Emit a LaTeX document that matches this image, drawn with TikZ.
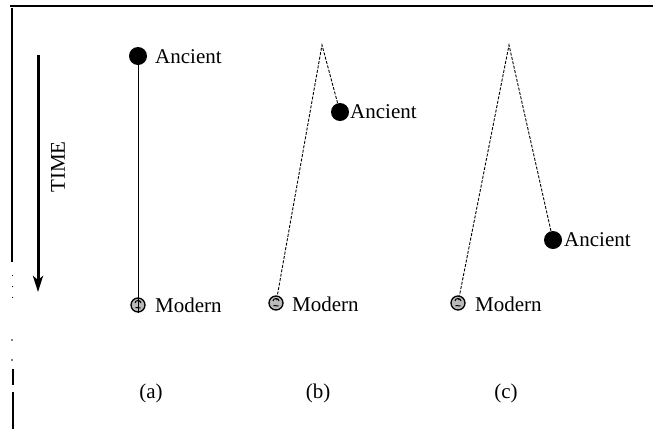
\documentclass[tikz,border=0pt]{standalone}
\usepackage{fontspec}
\setmainfont{Liberation Serif}
\usetikzlibrary{arrows.meta}
\begin{document}
\begin{tikzpicture}[x=1pt,y=-1pt,
  ancient/.style={circle,fill=black,minimum width=16pt,minimum height=18pt,inner sep=0pt},
  modern/.style={circle,draw=black,line width=1.3pt,fill=gray!55,minimum size=14pt,inner sep=0pt},
  lab/.style={font=\fontsize{21}{25}\selectfont,anchor=west,inner sep=0pt},
  caption/.style={font=\fontsize{21}{25}\selectfont,inner sep=0pt},
  branch/.style={line width=0.9pt,dash pattern=on 3pt off 1.5pt}]
\useasboundingbox (0,0) rectangle (653,429);
% frame
\coordinate (ftl) at (10,6);
\coordinate (ftr) at (653,6);
\draw[line width=1.6pt] (ftl) -- (ftr);
\draw[line width=1.3pt] (12,8) -- (12,262);
\draw[line width=1pt,dash pattern=on 1pt off 10pt] (12,275) -- (12,300);
\fill (12,340) circle (0.8);
\fill (12,360) circle (0.8);
\draw[line width=1.3pt] (13,369) -- (13,385);
\draw[line width=1.3pt] (13,392) -- (13,429);
% time arrow
\coordinate (tA) at (38,55);
\coordinate (tB) at (38,292);
\draw[line width=3pt,-{Stealth[length=16pt,width=10pt,inset=4pt]}] (tA) -- (tB);
\node[caption,rotate=90] (time) at (58,167) {TIME};
% panel (a)
\node[ancient] (aA) at (138,56) {};
\node[modern] (aM) at (138,305) {};
\draw[line width=1pt] (aA) -- (138,313);
\node[lab] (aAl) at (155,57) {Ancient};
\node[lab] (aMl) at (155,305) {Modern};
\node[caption] (ca) at (151,393) {(a)};
% panel (b)
\coordinate (bT) at (322,45);
\node[ancient] (bA) at (340,112) {};
\node[modern] (bM) at (276,303) {};
\draw[branch] (bA) -- (bT) -- (bM);
\node[lab] (bAl) at (350,112) {Ancient};
\node[lab] (bMl) at (292,304) {Modern};
\node[caption] (cb) at (318,393) {(b)};
% panel (c)
\coordinate (cT) at (509,45);
\node[ancient] (cA) at (553,240) {};
\node[modern] (cM) at (458,303) {};
\draw[branch] (cA) -- (cT) -- (cM);
\node[lab] (cAl) at (564,240) {Ancient};
\node[lab] (cMl) at (475,304) {Modern};
\node[caption] (cc) at (506,393) {(c)};
% modern symbol texture
\foreach \m in {aM,bM,cM}{
  \draw[line width=1pt] ([shift={(-3,-2)}]\m.center) arc (180:360:3 and 2.5);
  \draw[line width=1pt] ([shift={(-2.5,2.5)}]\m.center) -- ([shift={(2.5,3)}]\m.center);
  \fill ([shift={(1,-3.5)}]\m.center) circle (0.9);
}
\end{tikzpicture}
\end{document}
